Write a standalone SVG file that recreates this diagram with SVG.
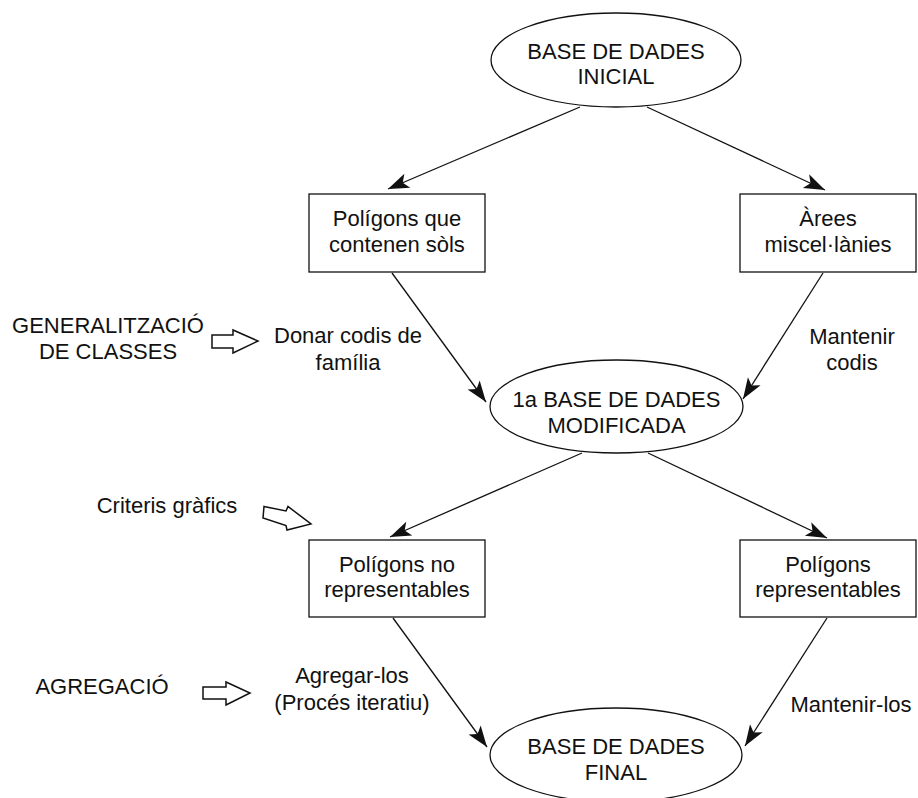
<svg xmlns="http://www.w3.org/2000/svg" width="918" height="798" viewBox="0 0 918 798">
<style>
text{font-family:"Liberation Sans",Arial,sans-serif;font-size:22px;fill:#111;text-anchor:middle}
.node{fill:#fff;stroke:#111;stroke-width:1.3}
.conn{stroke:#111;stroke-width:1.3;fill:none;marker-end:url(#ah)}
.hollow{fill:#fff;stroke:#111;stroke-width:1.5;stroke-linejoin:miter}
</style>
<defs>
<marker id="ah" markerUnits="userSpaceOnUse" markerWidth="24" markerHeight="18" viewBox="-22 -9 24 18" refX="0" refY="0" orient="auto">
<path d="M0,0 L-21,-7.5 L-16,0 L-21,7.5 Z" fill="#111"/>
</marker>
</defs>
<rect width="918" height="798" fill="#fff"/>
<g id="connectors">
<line class="conn" x1="580" y1="107" x2="388" y2="189"/>
<line class="conn" x1="647" y1="107" x2="825" y2="190"/>
<line class="conn" x1="392" y1="273" x2="486" y2="402"/>
<line class="conn" x1="823" y1="273" x2="743" y2="399"/>
<line class="conn" x1="582" y1="453" x2="390" y2="537"/>
<line class="conn" x1="648" y1="453" x2="827" y2="538"/>
<line class="conn" x1="393" y1="618" x2="487" y2="747"/>
<line class="conn" x1="827" y1="618" x2="745" y2="746"/>
</g>
<g id="n-inicial">
<ellipse class="node" cx="616" cy="60" rx="125" ry="47"/>
<text x="616" y="59">BASE DE DADES</text>
<text x="616" y="84">INICIAL</text>
</g>
<g id="n-sols">
<rect class="node" x="309" y="194" width="176" height="78"/>
<text x="397" y="226">Polígons que</text>
<text x="397" y="252">contenen sòls</text>
</g>
<g id="n-arees">
<rect class="node" x="740" y="194" width="176" height="78"/>
<text x="828" y="226">Àrees</text>
<text x="828" y="252">miscel·lànies</text>
</g>
<g id="n-modificada">
<ellipse class="node" cx="616.5" cy="406.5" rx="126.5" ry="46.5"/>
<text x="616.5" y="407">1a BASE DE DADES</text>
<text x="616.5" y="433">MODIFICADA</text>
</g>
<g id="n-norep">
<rect class="node" x="309" y="540" width="176" height="77"/>
<text x="397" y="572">Polígons no</text>
<text x="397" y="597">representables</text>
</g>
<g id="n-rep">
<rect class="node" x="740" y="540" width="176" height="77"/>
<text x="828" y="572">Polígons</text>
<text x="828" y="597">representables</text>
</g>
<g id="n-final">
<ellipse class="node" cx="616" cy="755" rx="126" ry="47"/>
<text x="616" y="754">BASE DE DADES</text>
<text x="616" y="780">FINAL</text>
</g>
<g id="labels">
<text x="108" y="333">GENERALITZACIÓ</text>
<text x="108" y="359">DE CLASSES</text>
<text x="348" y="343">Donar codis de</text>
<text x="348" y="370">família</text>
<text x="852" y="344">Mantenir</text>
<text x="852" y="370">codis</text>
<text x="167" y="513">Criteris gràfics</text>
<text x="102" y="694">AGREGACIÓ</text>
<text x="352" y="683">Agregar-los</text>
<text x="352" y="710">(Procés iteratiu)</text>
<text x="851" y="712">Mantenir-los</text>
</g>
<g id="hollow-arrows">
<polygon class="hollow" points="212,335 233,335 233,330 258,341 233,353 233,348 212,348"/>
<polygon class="hollow" points="264,506.5 286,511 288,506.5 311,524 287,530 286,525.5 263,518"/>
<polygon class="hollow" points="203,687 226,687 226,682 250,693 226,705 226,699 203,699"/>
</g>
</svg>
